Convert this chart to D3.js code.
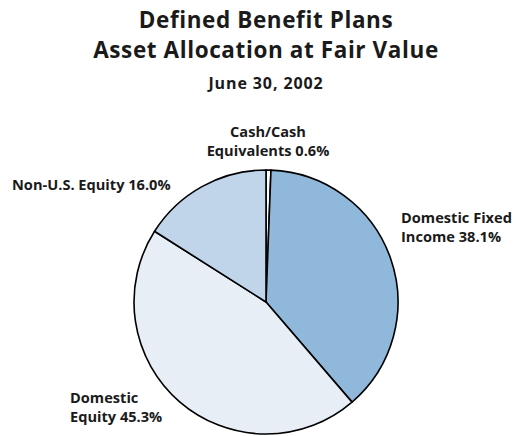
<!DOCTYPE html>
<html>
<head>
<meta charset="utf-8">
<script src="https://cdn.jsdelivr.net/npm/d3@7"></script>
<style>
  html, body { margin: 0; padding: 0; background: #fff; }
  svg { display: block; }
  text { font-family: "Open Sans", Lato, sans-serif; font-weight: bold; fill: #1a1a1a; }
</style>
</head>
<body>
<script>
// Asset allocation shares (percent), clockwise from 12 o'clock
const categories = ["Cash/Cash Equivalents", "Domestic Fixed Income", "Domestic Equity", "Non-U.S. Equity"];
const shares = [0.6, 38.1, 45.3, 16.0];
const sliceColors = ["#ffffff", "#8fb8db", "#e8eef6", "#c0d5ea"];
const labelLines = [
  ["Cash/Cash", "Equivalents 0.6%"],
  ["Domestic Fixed", "Income 38.1%"],
  ["Domestic", "Equity 45.3%"],
  ["Non-U.S. Equity 16.0%"]
];
const titleLines = ["Defined Benefit Plans", "Asset Allocation at Fair Value"];
const subtitle = "June 30, 2002";

const W = 516, H = 436;
const cx = 266, cy = 302, R = 132;

const svg = d3.select("body").append("svg").attr("width", W).attr("height", H);

// Title block
svg.selectAll("text.title").data(titleLines).join("text")
  .attr("class", "title")
  .attr("x", cx).attr("y", (d, i) => 28 + i * 30)
  .attr("text-anchor", "middle")
  .style("font-size", "22.5px")
  .style("letter-spacing", "0.6px")
  .text(d => d);

svg.append("text")
  .attr("x", cx).attr("y", 89)
  .attr("text-anchor", "middle")
  .style("font-size", "16px")
  .style("letter-spacing", "0.9px")
  .text(subtitle);

// Pie
const data = categories.map((c, i) => ({ name: c, value: shares[i], color: sliceColors[i], lines: labelLines[i] }));
const pie = d3.pie().value(d => d.value).sort(null);
const arc = d3.arc().innerRadius(0).outerRadius(R);

const g = svg.append("g").attr("transform", `translate(${cx},${cy})`);
g.selectAll("path").data(pie(data)).join("path")
  .attr("d", arc)
  .attr("fill", d => d.data.color)
  .attr("stroke", "#000")
  .attr("stroke-width", 1.6)
  .attr("stroke-linejoin", "round");

// Slice labels
const labelPos = [
  { x: 268, y: 137, anchor: "middle" },
  { x: 401, y: 223, anchor: "start" },
  { x: 70, y: 403, anchor: "start" },
  { x: 12, y: 190, anchor: "start" }
];
const labels = svg.selectAll("text.lbl").data(data).join("text")
  .attr("class", "lbl")
  .attr("x", (d, i) => labelPos[i].x)
  .attr("y", (d, i) => labelPos[i].y)
  .attr("text-anchor", (d, i) => labelPos[i].anchor)
  .style("font-size", "14.6px");
labels.each(function (d, i) {
  d3.select(this).selectAll("tspan").data(d.lines).join("tspan")
    .attr("x", labelPos[i].x)
    .attr("dy", (l, j) => j === 0 ? 0 : 19)
    .text(l => l);
});
</script>
</body>
</html>
